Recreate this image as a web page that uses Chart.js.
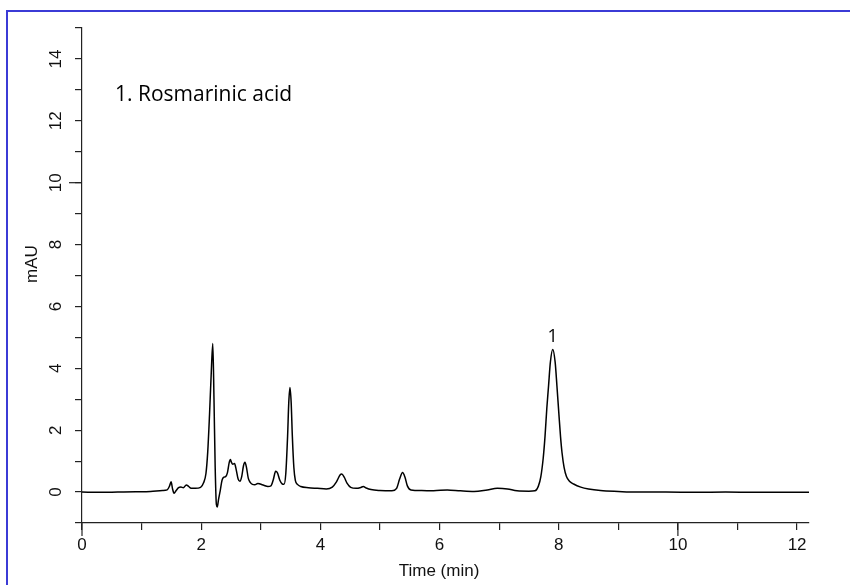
<!DOCTYPE html>
<html>
<head>
<meta charset="utf-8">
<script src="https://cdn.jsdelivr.net/npm/chart.js@4/dist/chart.umd.min.js"></script>
<style>
  html, body { margin: 0; padding: 0; background: #fff; overflow: hidden; }
  #frame { position: absolute; left: 6px; top: 10px; width: 900px; height: 700px; border: 2px solid #3b3bd6; box-sizing: border-box; }
  #chart { position: absolute; left: 0; top: 0; }
</style>
</head>
<body>
<div id="frame"></div>
<canvas id="chart" width="850" height="585"></canvas>
<script>
// chromatogram: time (min) and signal (mAU)
const times = [
  0.00, 0.30, 0.60, 0.90, 1.15, 1.35, 1.43, 1.47, 1.495, 1.52, 1.545, 1.58, 1.62, 1.66, 1.70, 1.75, 1.79, 1.83, 1.90, 1.99,
  2.04, 2.08, 2.11, 2.14, 2.17, 2.195, 2.215, 2.235, 2.255, 2.27, 2.29, 2.32, 2.35, 2.38, 2.41, 2.44, 2.47, 2.49, 2.51, 2.53,
  2.56, 2.59, 2.62, 2.65, 2.68, 2.71, 2.735, 2.76, 2.79, 2.82, 2.86, 2.90, 2.95, 2.99, 3.05, 3.12, 3.17, 3.21, 3.25, 3.28,
  3.32, 3.36, 3.39, 3.42, 3.45, 3.47, 3.49, 3.51, 3.53, 3.555, 3.58, 3.62, 3.67, 3.80, 3.95, 4.10, 4.20, 4.27, 4.33, 4.36,
  4.40, 4.45, 4.51, 4.60, 4.68, 4.72, 4.77, 4.85, 5.00, 5.20, 5.28, 5.33, 5.38, 5.42, 5.46, 5.52, 5.70, 5.90, 6.13, 6.35,
  6.58, 6.80, 6.97, 7.14, 7.30, 7.50, 7.60, 7.66, 7.70, 7.74, 7.77, 7.80, 7.83, 7.86, 7.90, 7.94, 7.97, 8.00, 8.03, 8.055,
  8.09, 8.13, 8.18, 8.25, 8.37, 8.50, 8.70, 9.00, 9.30, 9.80, 10.3, 10.8, 11.3, 11.8, 12.2
];
const signal = [
  0.00, -0.01, 0.00, 0.01, 0.02, 0.05, 0.07, 0.20, 0.33, 0.10, -0.04, 0.05, 0.14, 0.16, 0.14, 0.23, 0.18, 0.12, 0.12, 0.15,
  0.30, 0.60, 1.30, 2.50, 3.90, 4.80, 3.00, 0.80, -0.40, -0.48, -0.25, 0.05, 0.38, 0.48, 0.50, 0.62, 0.95, 1.05, 0.95, 0.90,
  0.92, 0.70, 0.42, 0.35, 0.50, 0.85, 0.96, 0.80, 0.45, 0.32, 0.25, 0.24, 0.28, 0.26, 0.22, 0.18, 0.20, 0.40, 0.67, 0.62,
  0.38, 0.26, 0.25, 0.60, 1.80, 2.90, 3.38, 2.90, 1.80, 0.80, 0.38, 0.24, 0.18, 0.14, 0.12, 0.10, 0.16, 0.33, 0.55, 0.58,
  0.48, 0.28, 0.15, 0.12, 0.15, 0.18, 0.13, 0.08, 0.05, 0.04, 0.12, 0.42, 0.63, 0.48, 0.20, 0.07, 0.05, 0.04, 0.07, 0.04,
  0.02, 0.07, 0.12, 0.10, 0.04, 0.03, 0.04, 0.20, 0.50, 1.10, 1.80, 2.70, 3.45, 4.20, 4.61, 4.20, 3.43, 2.60, 1.80, 1.28,
  0.80, 0.50, 0.35, 0.26, 0.16, 0.10, 0.05, 0.02, 0.00, 0.00, -0.01, 0.00, -0.01, -0.01, -0.01
];

const peakTimes = [7.90];
const peakHeights = [4.61];
const peakNames = ['1'];

const yTickLabels = [0, 2, 4, 6, 8, 10, 12, 14];
const longTicksX = [0, 10];
const longTicksY = [10];

const AXIS = '#222';
const FONT = '"Liberation Sans", Arial, sans-serif';

const extras = {
  id: 'extras',
  afterDraw(chart) {
    const { ctx, chartArea, scales } = chart;
    const x = scales.x, y = scales.y;
    ctx.save();
    ctx.strokeStyle = AXIS;
    ctx.lineWidth = 1.2;
    // the odd longer ticks
    longTicksX.forEach(v => {
      const px = x.getPixelForValue(v);
      ctx.beginPath(); ctx.moveTo(px, chartArea.bottom); ctx.lineTo(px, chartArea.bottom + 13); ctx.stroke();
    });
    longTicksY.forEach(v => {
      const py = y.getPixelForValue(v);
      ctx.beginPath(); ctx.moveTo(chartArea.left, py); ctx.lineTo(chartArea.left - 13, py); ctx.stroke();
    });

    // rotated y tick labels
    ctx.fillStyle = '#111';
    ctx.font = '17px ' + FONT;
    ctx.textAlign = 'center';
    ctx.textBaseline = 'middle';
    yTickLabels.forEach(v => {
      ctx.save();
      ctx.translate(chartArea.left - 26, y.getPixelForValue(v));
      ctx.rotate(-Math.PI / 2);
      ctx.fillText(String(v), 0, 0);
      ctx.restore();
    });

    // axis titles
    ctx.save();
    ctx.translate(32, 264);
    ctx.rotate(-Math.PI / 2);
    ctx.fillText('mAU', 0, 0);
    ctx.restore();
    ctx.fillText('Time (min)', 439, 571);

    // peak numbers
    ctx.fillStyle = '#000';
    ctx.font = '18px "Open Sans", sans-serif';
    ctx.textBaseline = 'alphabetic';
    peakTimes.forEach((t, i) => {
      ctx.fillText(peakNames[i], x.getPixelForValue(t), y.getPixelForValue(peakHeights[i]) - 7);
    });

    // legend text
    ctx.textAlign = 'left';
    ctx.font = '21px "Open Sans", sans-serif';
    ctx.fillText('1. Rosmarinic acid', 115, 101);
    ctx.restore();
  }
};

new Chart(document.getElementById('chart'), {
  type: 'line',
  data: {
    datasets: [{
      data: times.map((t, i) => ({ x: t, y: signal[i] })),
      borderColor: '#000',
      borderWidth: 1.5,
      pointRadius: 0,
      cubicInterpolationMode: 'monotone',
      fill: false
    }]
  },
  options: {
    responsive: false,
    animation: false,
    devicePixelRatio: 1,
    layout: { padding: { left: 0, right: 41, top: 28, bottom: 0 } },
    plugins: { legend: { display: false }, tooltip: { enabled: false } },
    scales: {
      x: {
        type: 'linear',
        min: 0,
        max: 12.2,
        afterFit(scale) { scale.height = 62; },
        border: { display: true, color: AXIS, width: 1.2 },
        grid: { drawOnChartArea: false, drawTicks: true, tickLength: 7, color: AXIS, lineWidth: 1.2 },
        ticks: {
          stepSize: 1,
          autoSkip: false,
          includeBounds: false,
          maxRotation: 0,
          padding: 5,
          color: '#111',
          font: { family: FONT, size: 17 },
          callback: v => (v % 2 === 0 ? v : '')
        }
      },
      y: {
        type: 'linear',
        min: -1,
        max: 15,
        afterFit(scale) { scale.width = 82; },
        border: { display: true, color: AXIS, width: 1.2 },
        grid: { drawOnChartArea: false, drawTicks: true, tickLength: 7, color: AXIS, lineWidth: 1.2 },
        ticks: {
          stepSize: 1,
          autoSkip: false,
          color: 'rgba(0,0,0,0)',
          callback: () => ''
        }
      }
    }
  },
  plugins: [extras]
});
</script>
</body>
</html>
